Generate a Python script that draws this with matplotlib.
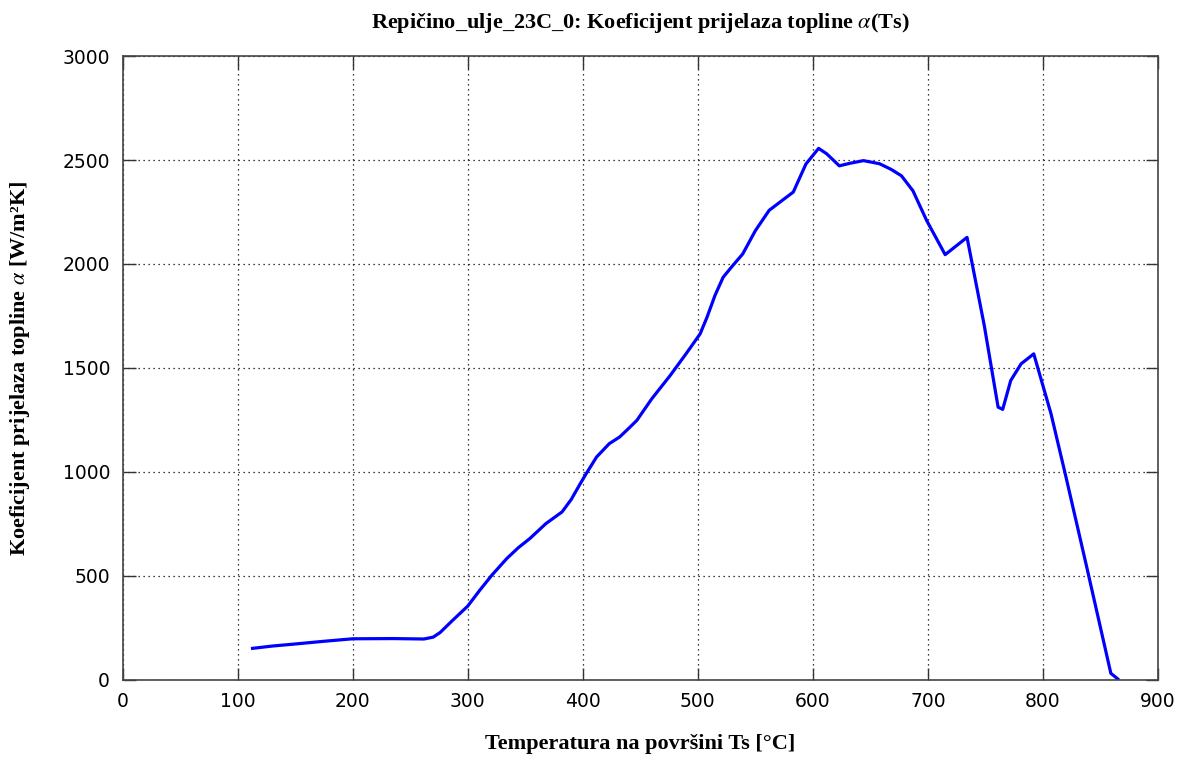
import numpy as np
import matplotlib.pyplot as plt

# Podaci ocitani s grafa
temp = [113, 130, 150, 175, 200, 235, 262, 270, 276, 286, 300, 310, 321, 334, 344, 354, 368,
        382, 390, 397, 403, 412, 423, 432, 440, 447, 460, 476, 490, 502, 508, 515, 522,
        530, 539, 550, 562, 572, 583, 594, 605, 612, 623, 632, 644, 658, 668, 677,
        687, 699, 715, 734, 749, 761, 765, 772, 781, 792, 807, 820, 838, 859, 865]
alfa = [152, 163, 173, 186, 198, 199, 197, 206, 228, 282, 355, 428, 504, 584, 636, 680, 752,
        808, 868, 936, 992, 1072, 1136, 1168, 1210, 1248, 1352, 1464, 1570, 1664, 1744, 1850, 1936,
        1990, 2048, 2160, 2258, 2300, 2346, 2481, 2556, 2530, 2472, 2484, 2497, 2482, 2455, 2424,
        2352, 2208, 2045, 2128, 1704, 1312, 1301, 1440, 1520, 1568, 1280, 976, 544, 32, 5]

xticks = np.arange(0, 901, 100)
yticks = np.arange(0, 3001, 500)

plt.rcParams['mathtext.fontset'] = 'stix'
serif = ['Liberation Serif', 'DejaVu Serif']
sans = ['DejaVu Sans']

fig = plt.figure(figsize=(11.91, 7.60), dpi=100)
ax = fig.add_axes([0.1029, 0.1053, 0.8694, 0.8210])

ax.plot(temp, alfa, color='#0000ff', lw=2.3)

ax.set_xlim(0, 900)
ax.set_ylim(0, 3000)
ax.set_xticks(xticks)
ax.set_yticks(yticks)
ax.tick_params(direction='in', length=9, width=1, top=True, right=True,
               labelsize=13.5, pad=9, color='#333333')
for lab in ax.get_xticklabels() + ax.get_yticklabels():
    lab.set_family(sans)

ax.grid(True, color='black', linestyle=(0, (1, 3)), lw=0.9)
for s in ax.spines.values():
    s.set_color('#444444')
    s.set_linewidth(1.2)

ax.set_title('Repičino_ulje_23C_0: Koeficijent prijelaza topline $\\mathit{\\alpha}$(Ts)',
             family=serif, fontweight='bold', fontsize=16, pad=20)
ax.set_xlabel('Temperatura na površini Ts [°C]', family=serif, fontweight='bold',
              fontsize=16, labelpad=16)
ax.set_ylabel('Koeficijent prijelaza topline $\\mathit{\\alpha}$ [W/m²K]', family=serif,
              fontweight='bold', fontsize=16, labelpad=22)

fig.savefig('out.png', dpi=100)
